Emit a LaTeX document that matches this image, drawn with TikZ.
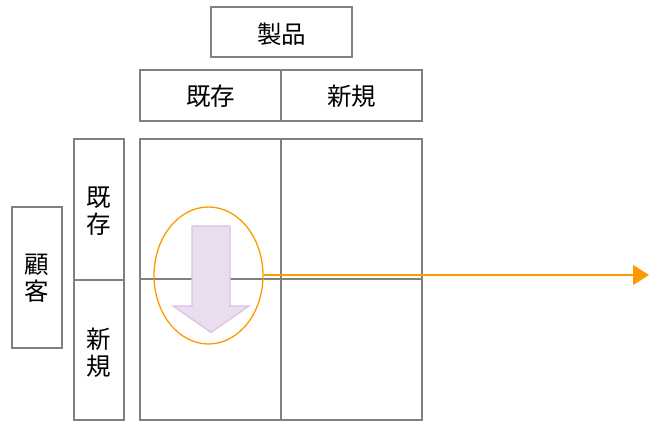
\documentclass[tikz,border=0pt]{standalone}
\usepackage{fontspec}
\setmainfont{Noto Sans CJK JP}
\usetikzlibrary{arrows.meta,shapes.geometric}
\definecolor{gline}{HTML}{808080}
\definecolor{org}{HTML}{FF9900}
\definecolor{lav}{HTML}{EBDDF0}
\definecolor{lavb}{HTML}{D9C2E6}
\tikzset{
  cell/.style={draw=gline, line width=1.6pt, fill=white},
  lbl/.style={font=\fontsize{24.5}{27}\selectfont, inner sep=0pt, align=center},
}
\begin{document}
\begin{tikzpicture}[x=1pt,y=-1pt]
\useasboundingbox (0,0) rectangle (649,422);
% header
\draw[cell] (211,7) rectangle (352,57);
\node[lbl] (prod) at (281.5,34.5) {製品};
\draw[cell] (140,70) rectangle (281,121);
\draw[cell] (281,70) rectangle (422,121);
\node[lbl] (h1) at (210.5,96.5) {既存};
\node[lbl] (h2) at (351.5,96.5) {新規};
% left
\draw[cell] (12,207) rectangle (62,348);
\node[lbl] (cust) at (37,278) {顧\\客};
\draw[cell] (74,139) rectangle (124,280);
\draw[cell] (74,280) rectangle (124,420);
\node[lbl] (v1) at (99,211.5) {既\\存};
\node[lbl] (v2) at (99,353) {新\\規};
% grid
\draw[cell] (140,139) rectangle (422,420);
\draw[draw=gline, line width=1.6pt] (281,139) -- (281,420);
\draw[draw=gline, line width=1.6pt] (140,279) -- (422,279);
% block arrow
\draw[fill=lav, draw=lavb, line width=1.2pt, line join=miter]
  (192,226) -- (230,226) -- (230,306) -- (249,306) -- (211,332.5) -- (173,306) -- (192,306) -- cycle;
% ellipse
\node[draw=org, line width=1.3pt, ellipse, minimum width=109pt, minimum height=137pt, inner sep=0pt] (e) at (208.5,275.5) {};
\coordinate (tip) at (649,275);
\draw[org, line width=1.6pt, -{Triangle[width=20pt,length=16pt]}] (e.east |- tip) -- (tip);
\end{tikzpicture}
\end{document}
